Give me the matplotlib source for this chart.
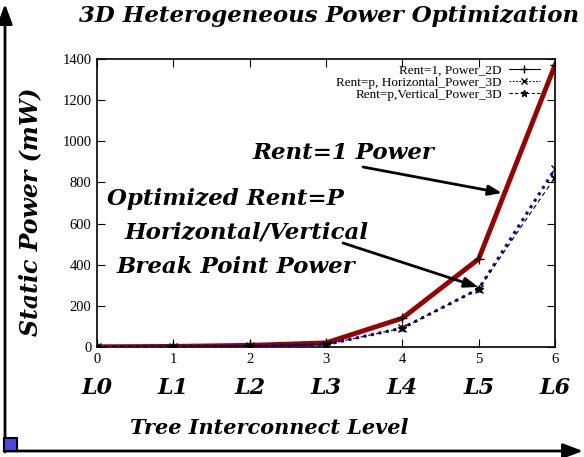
import matplotlib.pyplot as plt
from matplotlib.lines import Line2D
from matplotlib.patches import Rectangle, FancyArrowPatch

# Données
levels = [0, 1, 2, 3, 4, 5, 6]
level_labels = ["L0", "L1", "L2", "L3", "L4", "L5", "L6"]
power_2d = [1, 3, 8, 20, 140, 428, 1370]
power_3d_horiz = [1, 2, 5, 12, 92, 282, 865]
power_3d_vert = [1, 2, 5, 12, 92, 282, 825]
y_ticks = [0, 200, 400, 600, 800, 1000, 1200, 1400]

SERIF = "Liberation Serif"
BIG = "DejaVu Serif"

fig = plt.figure(figsize=(5.84, 4.57), dpi=100)
ax = fig.add_axes([97 / 584, 1 - 347 / 457, (555 - 97) / 584, (347 - 59) / 457])

ax.plot(levels, power_2d, color="#990000", linewidth=3.5, zorder=3)
ax.plot(levels, power_2d, linestyle="none", marker="+", color="black",
        markersize=7, markeredgewidth=1, zorder=4)
ax.plot(levels, power_3d_horiz, color="#0000aa", linewidth=2.2,
        linestyle=(0, (1, 1.5)), marker="x", markeredgecolor="black",
        markersize=6, markeredgewidth=1, zorder=5)
ax.plot(levels, power_3d_vert, color="black", linewidth=0.8,
        linestyle=(0, (4, 3)), marker="*", markeredgecolor="black",
        markerfacecolor="black", markersize=6, zorder=5)

ax.set_xlim(0, 6)
ax.set_ylim(0, 1400)
ax.set_xticks(levels)
ax.set_yticks(y_ticks)
ax.tick_params(direction="in", top=True, right=True, length=6, width=0.8,
               labelsize=10.5, pad=4)
for lbl in ax.get_xticklabels() + ax.get_yticklabels():
    lbl.set_fontfamily(SERIF)
for s in ax.spines.values():
    s.set_linewidth(1.2)

# Légende (style gnuplot : texte à droite)
handles = [
    Line2D([], [], color="black", linewidth=0.8, marker="+", markersize=6),
    Line2D([], [], color="black", linewidth=0.8, linestyle=(0, (1.5, 1.5)),
           marker="x", markersize=5),
    Line2D([], [], color="black", linewidth=0.8, linestyle=(0, (3, 2)),
           marker="*", markersize=5),
]
labels = ["Rent=1, Power_2D", "Rent=p, Horizontal_Power_3D",
          "Rent=p,Vertical_Power_3D"]
ax.legend(handles, labels, loc="upper right", markerfirst=False,
          frameon=False, prop={"family": SERIF, "size": 9.5},
          handlelength=2.4, handletextpad=0.5, labelspacing=0.0,
          borderaxespad=0.2, bbox_to_anchor=(0.985, 1.01))

# Libellés des niveaux
for x, lab in zip(levels, level_labels):
    ax.text(x, -200, lab, ha="center", va="center", fontsize=16,
            fontweight="bold", fontstyle="italic", family=BIG)

bold_it = dict(fontweight="bold", fontstyle="italic", family=BIG)
fig.text(329 / 584, 1 - 16 / 457, "3D Heterogeneous Power Optimization",
         ha="center", va="center", fontsize=16.5, **bold_it)
fig.text(269 / 584, 1 - 428 / 457, "Tree Interconnect Level",
         ha="center", va="center", fontsize=15, **bold_it)
fig.text(30 / 584, 1 - 212 / 457, "Static Power (mW)", rotation=90,
         ha="center", va="center", fontsize=17, **bold_it)

# Annotations
def fig_xy(px, py):
    return (px / 584, 1 - py / 457)

fig.text(*fig_xy(343, 153), "Rent=1 Power", ha="center", va="center",
         fontsize=16.5, **bold_it)
fig.text(*fig_xy(225, 199), "Optimized Rent=P", ha="center", va="center",
         fontsize=16.5, **bold_it)
fig.text(*fig_xy(247, 233), "Horizontal/Vertical", ha="center", va="center",
         fontsize=16.5, **bold_it)
fig.text(*fig_xy(236, 267), "Break Point Power", ha="center", va="center",
         fontsize=16.5, **bold_it)

arrow = dict(arrowstyle="-|>,head_length=0.8,head_width=0.3", color="black",
             linewidth=2, shrinkA=0, shrinkB=0)
ax.annotate("", xy=fig_xy(502, 193), xytext=fig_xy(363, 167),
            xycoords="figure fraction", textcoords="figure fraction",
            arrowprops=arrow)
ax.annotate("", xy=fig_xy(478, 287), xytext=fig_xy(343, 243),
            xycoords="figure fraction", textcoords="figure fraction",
            arrowprops=arrow)

# Cadre extérieur avec flèches
outer = dict(arrowstyle="-|>,head_length=1.2,head_width=0.45", color="black",
             linewidth=2, shrinkA=0, shrinkB=0, mutation_scale=10)
fig.add_artist(FancyArrowPatch(fig_xy(5, 452), fig_xy(5, 4),
                               transform=fig.transFigure, **outer))
fig.add_artist(FancyArrowPatch(fig_xy(4, 451), fig_xy(583, 451),
                               transform=fig.transFigure, **outer))
fig.add_artist(Rectangle(fig_xy(4, 451), 13 / 584, 13 / 457,
                         transform=fig.transFigure, facecolor="#4a4adf",
                         edgecolor="black", linewidth=1.5))

fig.savefig("out.png", dpi=100)
